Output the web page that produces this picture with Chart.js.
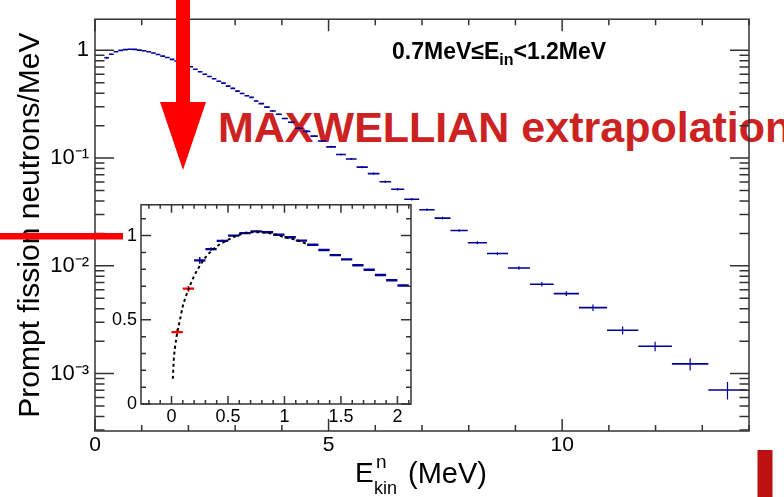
<!DOCTYPE html>
<html><head><meta charset="utf-8">
<script src="https://cdn.jsdelivr.net/npm/chart.js@4"></script>
<style>
html,body{margin:0;padding:0;background:#fff;overflow:hidden;width:784px;height:497px;}
#wrap{position:relative;width:784px;height:497px;overflow:hidden;font-family:"Liberation Sans",Arial,Helvetica,sans-serif;color:#000;}
.abs{position:absolute;white-space:nowrap;line-height:1;}
</style></head><body><div id="wrap">
<div class="abs" style="left:218px;top:106px;font-weight:bold;font-size:43px;color:#cc2222;z-index:0">MAXWELLIAN extrapolation</div>
<canvas id="main" width="784" height="497" style="position:absolute;left:0;top:0;z-index:1"></canvas>
<div class="abs" style="left:392px;top:40px;font-weight:bold;font-size:23px;z-index:2">0.7MeV≤E<span style="font-size:16px;position:relative;top:6px">in</span>&lt;1.2MeV</div>
<div style="position:absolute;left:0;top:0;z-index:2">
  <div class="abs" style="left:355px;top:459px;font-size:28px">E</div>
  <div class="abs" style="left:376px;top:452px;font-size:19px">n</div>
  <div class="abs" style="left:374px;top:479px;font-size:18px">kin</div>
  <div class="abs" style="left:408px;top:459px;font-size:29px">(MeV)</div>
</div>
<canvas id="inset" width="320" height="240" style="position:absolute;left:100px;top:190px;z-index:4"></canvas>
<svg width="784" height="497" style="position:absolute;left:0;top:0;z-index:5" xmlns="http://www.w3.org/2000/svg">
  <polygon points="176,0 190,0 190,102 206,102 183,170 160,102 176,102" fill="#ff0000"/>
  <rect x="0" y="233" width="123" height="6.5" fill="#ff0000"/>
  <rect x="757.5" y="450" width="15" height="47" fill="#bb1111"/>
</svg>
</div>
<script>
const FONT = '"Liberation Sans", Arial, Helvetica, sans-serif';

// ---- data ----
const mainBinEdges = [0.2,0.3,0.4,0.5,0.6,0.7,0.8,0.9,1.0,1.1,1.2,1.3,1.4,1.5,1.6,1.7,1.8,1.9,2.0,
  2.1,2.2,2.3,2.4,2.5,2.6,2.7,2.8,2.9,3.0,3.1,3.2,3.3,3.4,3.5,3.62,3.74,3.87,4.0,4.13,4.28,4.45,
  4.61,4.77,4.95,5.16,5.37,5.6,5.84,6.09,6.34,6.62,6.94,7.27,7.61,7.98,8.39,8.84,9.31,9.82,10.36,
  10.96,11.63,12.35,13.13,13.95];
const mainValues = [0.853,0.920,0.969,1.000,1.015,1.025,1.020,1.005,0.990,0.970,0.946,0.915,0.884,0.859,0.824,0.797,0.766,0.735,0.704,
  0.668,0.632,0.600,0.572,0.545,0.517,0.496,0.466,0.444,
  0.418,0.398,0.379,0.366,0.339,
  0.320,0.297,0.274,0.255,
  0.233,0.215,0.189,0.177,0.160,0.144,
  0.127,0.108,0.098,0.0824,0.0718,0.0603,
  0.0514,0.0415,0.0332,0.0277,0.0213,0.0164,0.0130,0.00954,0.00675,0.00552,0.00409,0.00252,0.00179,0.00123,0.000703];
const mainErrors = [0.020,0.010,0.006,0.004,0.004,0.004,0.004,0.004,0.004,0.004,0.004,0.004,0.004,0.004,0.004,0.004,0.004,0.004,0.004,
  0.005,0.005,0.005,0.005,0.005,0.005,0.005,0.005,0.005,
  0.005,0.005,0.005,0.005,0.005,
  0.004,0.004,0.004,0.004,
  0.004,0.004,0.004,0.004,0.003,0.003,
  0.003,0.0025,0.0022,0.002,0.0017,0.0015,
  0.0013,0.0011,0.0009,0.0008,0.0006,0.0005,0.0004,0.00035,0.00032,0.00028,0.00028,0.00022,0.00018,0.00016,0.00013];
const redBinEdges = [0.0,0.1,0.2];
const redValues = [0.427,0.685];
const redErrors = [0.019,0.018];
const maxwellE = [0.012,0.02,0.03,0.05,0.075,0.1,0.15,0.2,0.25,0.3,0.4,0.5,0.6,0.7,0.8,0.9,1.0,1.1,1.2];
const maxwellY = [0.15,0.26,0.33,0.42,0.50,0.58,0.68,0.76,0.82,0.87,0.935,0.975,1.005,1.02,1.02,1.01,0.99,0.975,0.95];
const insetMaxE = 2.1;

const mainXTicks = [0,5,10];
const mainXTickLabels = ['0','5','10'];
const mainYTicks = [0.001,0.01,0.1,1];
const mainYTickLabels = ['10\u207B\u00B3','10\u207B\u00B2','10\u207B\u00B9','1'];
const insetXTicks = [0,0.5,1,1.5,2];
const insetXTickLabels = ['0','0.5','1','1.5','2'];
const insetYTicks = [0,0.5,1];
const insetYTickLabels = ['0','0.5','1'];

// ---- helpers ----
function stepPoints(edges, vals, n) {
  const pts = [];
  for (let i = 0; i < n; i++) {
    pts.push({x: edges[i], y: vals[i]}, {x: edges[i+1], y: vals[i]}, {x: edges[i+1], y: null});
  }
  return pts;
}
function errPoints(edges, vals, errs, n) {
  const pts = [];
  for (let i = 0; i < n; i++) {
    const c = (edges[i] + edges[i+1]) / 2;
    pts.push({x: c, y: vals[i] - errs[i]}, {x: c, y: vals[i] + errs[i]}, {x: c, y: null});
  }
  return pts;
}
function range(a, b, step) { const r = []; for (let v = a; v <= b + 1e-9; v += step) r.push(+v.toFixed(4)); return r; }

const mainXMinor = range(0, 14, 1);
const mainYMinor = [];
[-4,-3,-2,-1,0].forEach(p => { for (let k = 2; k <= 9; k++) mainYMinor.push(k * Math.pow(10, p)); });
const insetXMinor = range(-0.2, 2.1, 0.1);
const insetYMinor = range(0, 1.1, 0.1);

const rootFrame = {
  id: 'rootFrame',
  beforeDraw(chart, args, o) {
    if (o.fill) {
      const a = chart.chartArea, ctx = chart.ctx;
      ctx.save(); ctx.fillStyle = o.fill;
      ctx.fillRect(a.left, a.top, a.right - a.left, a.bottom - a.top);
      ctx.restore();
    }
  },
  afterDatasetsDraw(chart, args, o) {
    const ctx = chart.ctx, a = chart.chartArea, x = chart.scales.x, y = chart.scales.y;
    ctx.save();
    ctx.strokeStyle = o.color; ctx.lineWidth = o.width;
    ctx.beginPath();
    const tx = (v, len) => {
      const p = x.getPixelForValue(v);
      if (p < a.left - 0.5 || p > a.right + 0.5) return;
      ctx.moveTo(p, a.bottom); ctx.lineTo(p, a.bottom - len);
      ctx.moveTo(p, a.top); ctx.lineTo(p, a.top + len);
    };
    const ty = (v, len) => {
      const p = y.getPixelForValue(v);
      if (p < a.top - 0.5 || p > a.bottom + 0.5) return;
      ctx.moveTo(a.left, p); ctx.lineTo(a.left + len, p);
      ctx.moveTo(a.right, p); ctx.lineTo(a.right - len, p);
    };
    o.xMinor.forEach(v => tx(v, o.xMinLen));
    o.xMajor.forEach(v => tx(v, o.xMajLen));
    o.yMinor.forEach(v => ty(v, o.yMinLen));
    o.yMajor.forEach(v => ty(v, o.yMajLen));
    ctx.stroke();
    ctx.strokeRect(a.left, a.top, a.right - a.left, a.bottom - a.top);
    ctx.restore();
  }
};

const nMain = mainValues.length;
new Chart(document.getElementById('main'), {
  type: 'line',
  data: { datasets: [
    { data: stepPoints(mainBinEdges, mainValues, nMain), borderColor: '#000099', borderWidth: 1.6, pointRadius: 0, spanGaps: false, order: 1 },
    { data: errPoints(mainBinEdges, mainValues, mainErrors, nMain), borderColor: '#000099', borderWidth: 1.2, pointRadius: 0, spanGaps: false, order: 2 }
  ]},
  options: {
    responsive: false, animation: false, devicePixelRatio: 1, events: [],
    layout: { padding: { left: 0, right: 35, top: 8, bottom: 0 } },
    plugins: { legend: { display: false }, tooltip: { enabled: false },
      rootFrame: { color: '#333', width: 1.5, xMajor: mainXTicks, xMinor: mainXMinor, yMajor: mainYTicks, yMinor: mainYMinor,
        xMajLen: 12, xMinLen: 6, yMajLen: 19, yMinLen: 9.5 } },
    scales: {
      x: { type: 'linear', min: 0, max: 14,
        grid: { display: false, drawTicks: false }, border: { display: false },
        afterBuildTicks: s => { s.ticks = mainXTicks.map(v => ({ value: v })); },
        afterFit: s => { s.height = 66; },
        ticks: { autoSkip: false, maxRotation: 0, padding: 2, color: '#000', font: { family: FONT, size: 21 },
          callback: (v, i) => mainXTickLabels[i] } },
      y: { type: 'logarithmic', min: 2.93e-4, max: 1.946,
        grid: { display: false, drawTicks: false }, border: { display: false },
        afterBuildTicks: s => { s.ticks = mainYTicks.map(v => ({ value: v })); },
        afterFit: s => { s.width = 95; },
        title: { display: true, text: 'Prompt fission neutrons/MeV', color: '#000', font: { family: FONT, size: 30 }, padding: { top: 13, bottom: 0 } },
        ticks: { autoSkip: false, padding: 6, color: '#000', font: { family: FONT, size: 22 },
          callback: (v, i) => mainYTickLabels[i] } }
    }
  },
  plugins: [rootFrame]
});

let nInset = 0;
while (nInset < nMain && mainBinEdges[nInset + 1] <= insetMaxE + 1e-9) nInset++;

new Chart(document.getElementById('inset'), {
  type: 'line',
  data: { datasets: [
    { data: maxwellE.map((e, i) => ({ x: e, y: maxwellY[i] })), borderColor: '#000', borderWidth: 2, borderDash: [3, 3],
      pointRadius: 0, cubicInterpolationMode: 'monotone', order: 0 },
    { data: stepPoints(redBinEdges, redValues, redValues.length), borderColor: '#ff0000', borderWidth: 2.2, pointRadius: 0, spanGaps: false, order: 1 },
    { data: errPoints(redBinEdges, redValues, redErrors, redValues.length), borderColor: '#ff0000', borderWidth: 1.6, pointRadius: 0, spanGaps: false, order: 1 },
    { data: stepPoints(mainBinEdges, mainValues, nInset), borderColor: '#000099', borderWidth: 2.4, pointRadius: 0, spanGaps: false, order: 2 },
    { data: errPoints(mainBinEdges, mainValues, mainErrors, nInset), borderColor: '#000099', borderWidth: 1.6, pointRadius: 0, spanGaps: false, order: 2 }
  ]},
  options: {
    responsive: false, animation: false, devicePixelRatio: 1, events: [],
    layout: { padding: { left: 0, right: 9, top: 10, bottom: 0 } },
    plugins: { legend: { display: false }, tooltip: { enabled: false },
      rootFrame: { fill: '#fff', color: '#333', width: 1.5, xMajor: insetXTicks, xMinor: insetXMinor, yMajor: insetYTicks, yMinor: insetYMinor,
        xMajLen: 8, xMinLen: 4, yMajLen: 10, yMinLen: 5 } },
    scales: {
      x: { type: 'linear', min: -0.27, max: 2.12,
        grid: { display: false, drawTicks: false }, border: { display: false },
        afterBuildTicks: s => { s.ticks = insetXTicks.map(v => ({ value: v })); },
        afterFit: s => { s.height = 26; },
        ticks: { autoSkip: false, maxRotation: 0, padding: 2, color: '#000', font: { family: FONT, size: 18 },
          callback: (v, i) => insetXTickLabels[i] } },
      y: { type: 'linear', min: 0, max: 1.183,
        grid: { display: false, drawTicks: false }, border: { display: false },
        afterBuildTicks: s => { s.ticks = insetYTicks.map(v => ({ value: v })); },
        afterFit: s => { s.width = 41; },
        ticks: { autoSkip: false, padding: 4, color: '#000', font: { family: FONT, size: 18 },
          callback: (v, i) => insetYTickLabels[i] } }
    }
  },
  plugins: [rootFrame]
});
</script>
</body></html>
